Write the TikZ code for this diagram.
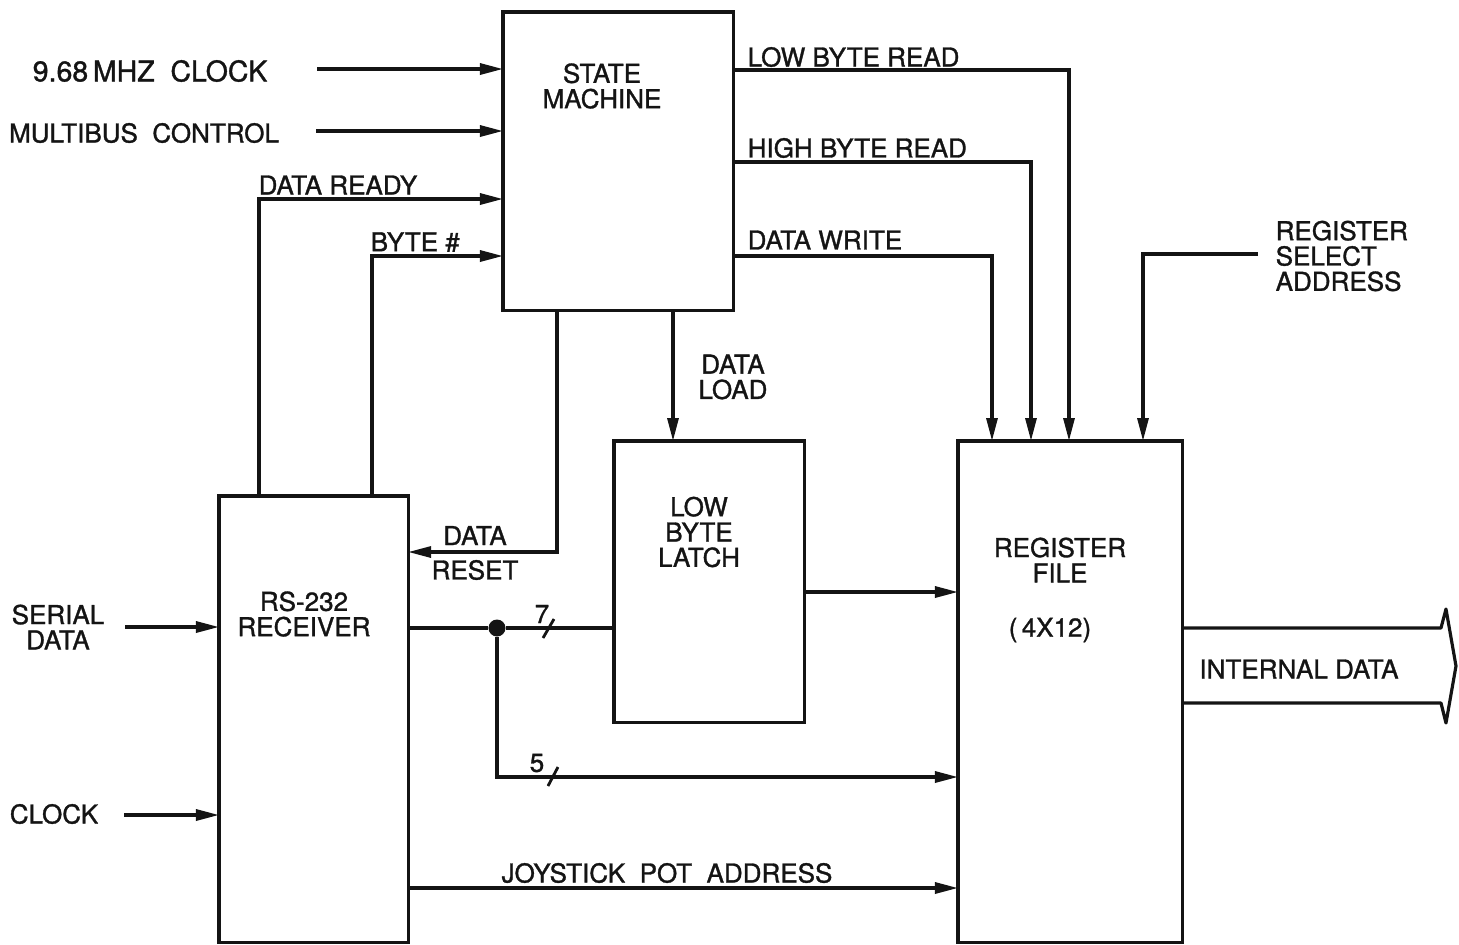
\documentclass[tikz,border=0pt]{standalone}
\usepackage{fontspec}
\setmainfont{TeX Gyre Heros}[FakeBold=1.2]
\usetikzlibrary{arrows.meta,positioning,calc}
\definecolor{ink}{RGB}{20,20,20}
\tikzset{
  >={Triangle[length=2.3mm,width=1.1mm]},
  blk/.style={draw=ink,line width=0.9pt,inner sep=0pt,outer sep=0pt,anchor=north west},
  tag/.style={font=\fontsize{7.4}{7.2}\selectfont,text=ink,align=center,inner sep=0pt},
  wire/.style={draw=ink,line width=0.9pt},
  sig/.style={wire,->},
  tap/.style={circle,fill=ink,inner sep=0pt,minimum size=1.7mm},
  bus/.style={draw=ink,line width=0.8pt},
}

\begin{document}
\begin{tikzpicture}[x=0.01cm,y=-0.01cm]
    \useasboundingbox (0,0) rectangle (1459,944);
    % blocks
    \node[blk,minimum width=2.30cm,minimum height=2.98cm] (sm) at (503,12) {};
    \node[blk,minimum width=1.89cm,minimum height=4.46cm] (rx) at (219,496) {};
    \node[blk,minimum width=1.90cm,minimum height=2.81cm] (latch) at (614,441) {};
    \node[blk,minimum width=2.24cm,minimum height=5.01cm] (reg) at (958,441) {};
    \node[tag] (smtxt) at (602,86) {STATE\\MACHINE};
    \node[tag] (rxtxt) at (304,614) {RS-232\\RECEIVER};
    \node[tag] (lattxt) at (699,532) {LOW\\BYTE\\LATCH};
    \node[tag] (regtxt) at (1060,560) {REGISTER\\FILE};
    \node[tag] (regsize) at (1050,630) {(\,4X12)};
    % inputs of the state machine
    \node[tag,font=\fontsize{8.1}{8}\selectfont] (clktxt) at (150,71) {9.68\,MHZ\ \ CLOCK};
    \node[tag] (mbtxt) at (144,133) {MULTIBUS\ \ CONTROL};
    \coordinate (clkin) at (317,69);
    \coordinate (mbin) at (316,131);
    \draw[sig] (clkin) -- (clkin -| sm.west);
    \draw[sig] (mbin) -- (mbin -| sm.west);
    \node[tag,anchor=west] (drtxt) at (258,185) {DATA READY};
    \node[tag,anchor=west] (bytxt) at (370,242) {BYTE \#};
    \draw[sig] (rx.north -| 259,0) |- (sm.west |- 0,199);
    \draw[sig] (rx.north -| 372,0) |- (sm.west |- 0,256);
    % outputs of the state machine
    \node[tag,anchor=west] (lbr) at (747,57) {LOW BYTE READ};
    \node[tag,anchor=west] (hbr) at (747,148) {HIGH BYTE READ};
    \node[tag,anchor=west] (dwr) at (747,240) {DATA WRITE};
    \draw[sig] (sm.east |- 0,70) -| (reg.north -| 1069,0);
    \draw[sig] (sm.east |- 0,162) -| (reg.north -| 1031,0);
    \draw[sig] (sm.east |- 0,256) -| (reg.north -| 992,0);
    \node[tag] (dld) at (733,377) {DATA\\LOAD};
    \draw[sig] (sm.south -| 673,0) -- (latch.north -| 673,0);
    \node[tag] (rst) at (475,553) {DATA\\[2.6pt]RESET};
    \draw[sig] (sm.south -| 557,0) |- (rx.east |- 0,552);
    % register select
    \node[tag,align=left,anchor=west] (rsa) at (1275,256) {REGISTER\\SELECT\\ADDRESS};
    \coordinate (rselin) at (1258,254);
    \draw[sig] (rselin) -| (reg.north -| 1143,0);
    % receiver inputs
    \node[tag] (sertxt) at (58,627) {SERIAL\\DATA};
    \node[tag] (cktxt) at (54,814) {CLOCK};
    \coordinate (serin) at (125,627);
    \coordinate (ckin) at (124,815);
    \draw[sig] (serin) -- (serin -| rx.west);
    \draw[sig] (ckin) -- (ckin -| rx.west);
    % data paths
    \node[tap] (split) at (497,628) {};
    \draw[wire] (rx.east |- split) -- (split) -- (split -| latch.west);
    \draw[sig] (split) |- (reg.west |- 0,777);
    \draw[bus] (543,638) -- (554,619);
    \draw[bus] (548,786) -- (558,767);
    \node[tag] (seven) at (542,614) {7};
    \node[tag] (five) at (537,763) {5};
    \draw[sig] (latch.east |- 0,592) -- (reg.west |- 0,592);
    \node[tag] (joy) at (667,873) {JOYSTICK\ \ POT\ \ ADDRESS};
    \draw[sig] (rx.east |- 0,888) -- (reg.west |- 0,888);
    % internal data bus
    \node[tag] (idtxt) at (1299,669) {INTERNAL DATA};
    \draw[wire,line join=round] (reg.east |- 0,628) -- (1441,628) -- (1446,609) -- (1456,666)
      -- (1446,723) -- (1441,703) -- (reg.east |- 0,703);
\end{tikzpicture}
\end{document}
